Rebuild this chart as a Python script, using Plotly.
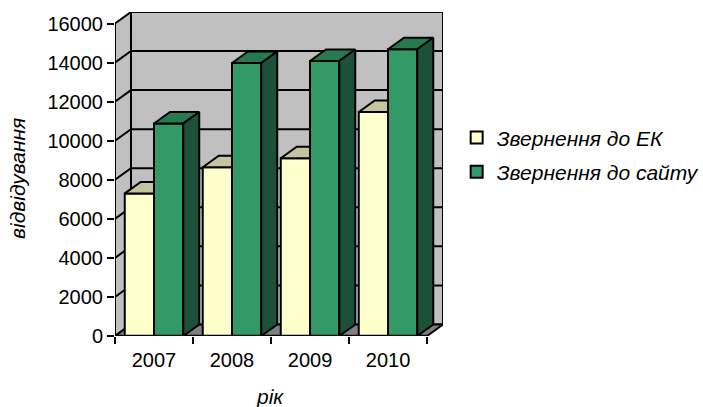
import plotly.graph_objects as go

years = ["2007", "2008", "2009", "2010"]
ek_values = [7300, 8640, 9100, 11470]
site_values = [10880, 13980, 14080, 14680]
y_ticks = [0, 2000, 4000, 6000, 8000, 10000, 12000, 14000, 16000]
series_names = ["Звернення до ЕК", "Звернення до сайту"]

FONT = "Liberation Sans, Arial, sans-serif"
BAR_W = 0.375
DX = 0.205      # depth offset, category units
DY = 590        # depth offset, value units
LW = 2
centers = [i + 0.5 for i in range(len(years))]
n = len(years)
ymax = y_ticks[-1]

YEL, YEL_TOP = "#FFFFCC", "#C4C49E"
GRN, GRN_TOP, GRN_SIDE = "#339966", "#277A50", "#1C5038"
WALL, FLOOR = "#C0C0C0", "#808080"


def poly(pts):
    return "M " + " L ".join(f"{x},{y}" for x, y in pts) + " Z"


line = dict(color="black", width=LW)
shapes = [
    dict(type="path", layer="below", xref="x", yref="y", fillcolor=WALL, line=line,
         path=poly([(DX, DY), (n + DX, DY), (n + DX, ymax + DY), (DX, ymax + DY)])),
    dict(type="path", layer="below", xref="x", yref="y", fillcolor=WALL, line=line,
         path=poly([(0, 0), (DX, DY), (DX, ymax + DY), (0, ymax)])),
    dict(type="path", layer="below", xref="x", yref="y", fillcolor=FLOOR, line=line,
         path=poly([(0, 0), (DX, DY), (n + DX, DY), (n, 0)])),
]
for t in y_ticks[1:-1]:
    shapes.append(dict(type="path", layer="below", xref="x", yref="y", line=line,
                       path=f"M 0,{t} L {DX},{t + DY} L {n + DX},{t + DY}"))
# front axis lines
shapes.append(dict(type="line", layer="above", xref="x", yref="y", x0=0, x1=0, y0=0, y1=ymax, line=line))
shapes.append(dict(type="line", layer="above", xref="x", yref="y", x0=0, x1=n, y0=0, y1=0, line=dict(color="black", width=2.5)))

fig = go.Figure()
fig.add_bar(x=centers, y=ek_values, width=BAR_W, offset=-BAR_W, name=series_names[0],
            legendgroup="a", marker=dict(color=YEL, line=dict(color="black", width=LW)))
fig.add_bar(x=centers, y=site_values, width=BAR_W, offset=0, name=series_names[1],
            legendgroup="b", marker=dict(color=GRN, line=dict(color="black", width=LW)))


def face(pts, color):
    fig.add_scatter(x=[p[0] for p in pts] + [pts[0][0]], y=[p[1] for p in pts] + [pts[0][1]],
                    mode="lines", fill="toself", fillcolor=color, showlegend=False, hoverinfo="skip",
                    line=dict(color="black", width=LW))


for c, a, b in zip(centers, ek_values, site_values):
    x0, xm, x1 = c - BAR_W, c, c + BAR_W
    # visible part of the yellow top stops at the green bar
    face([(x0, a), (x0 + DX, a + DY), (xm, a + DY), (xm, a)], YEL_TOP)
    face([(xm, b), (xm + DX, b + DY), (x1 + DX, b + DY), (x1, b)], GRN_TOP)
    face([(x1, 0), (x1 + DX, DY), (x1 + DX, b + DY), (x1, b)], GRN_SIDE)

PW, PH = 328.8, 324.5
fig.update_layout(
    width=703, height=407, autosize=False, barmode="overlay",
    margin=dict(l=114.5, r=259.7, t=11.5, b=71, pad=0, autoexpand=False),
    paper_bgcolor="white", plot_bgcolor="white",
    font=dict(family=FONT, size=20, color="black"),
    shapes=shapes,
    xaxis=dict(range=[0, n + DX], tickvals=centers, ticktext=years, ticks="", showgrid=False,
               zeroline=False, showline=False, tickfont=dict(size=20), ticklabelstandoff=10,
               minor=dict(tickvals=list(range(n + 1)), ticks="outside", ticklen=7, tickwidth=2,
                          tickcolor="black", showgrid=False)),
    yaxis=dict(range=[0, ymax + DY], tickvals=y_ticks, tickformat="d", ticks="outside", ticklen=7, tickwidth=2,
               tickcolor="black", showgrid=False, zeroline=False, showline=False,
               tickfont=dict(size=20)),
    legend=dict(x=(457 - 114.5) / PW, y=(336 - 117) / PH, xanchor="left", yanchor="top", traceorder="grouped",
                tracegroupgap=4, font=dict(size=21, style="italic"), bgcolor="rgba(0,0,0,0)",
                itemclick=False, itemdoubleclick=False),
    annotations=[
        dict(text="рік", xref="paper", yref="paper", x=(270 - 114.5) / PW, y=(336 - 397) / PH,
             xanchor="center", yanchor="middle", showarrow=False, font=dict(size=21, style="italic")),
        dict(text="відвідування", xref="paper", yref="paper", x=(17 - 114.5) / PW, y=(336 - 178) / PH,
             xanchor="center", yanchor="middle", textangle=-90, showarrow=False, font=dict(size=21, style="italic")),
    ],
)
fig.write_html("out.html", config={"displayModeBar": False},
               post_script="document.body.style.margin='0';document.documentElement.style.overflow='hidden';")
